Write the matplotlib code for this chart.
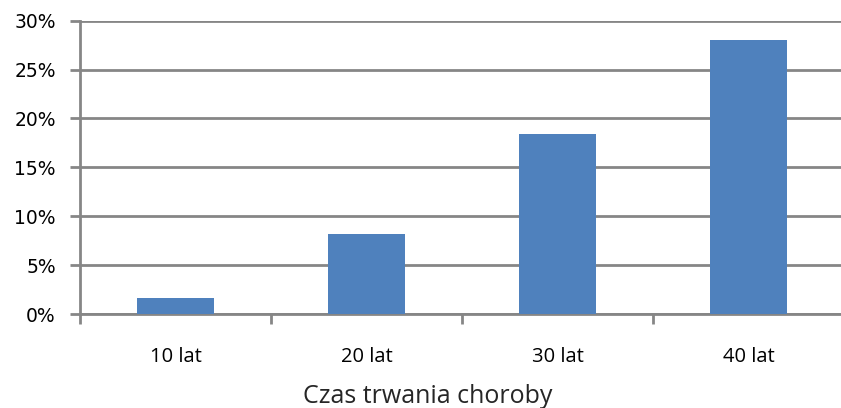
import matplotlib.pyplot as plt
from matplotlib.ticker import FixedLocator, PercentFormatter

# Data
categories = ["10 lat", "20 lat", "30 lat", "40 lat"]
values = [1.6, 8.2, 18.4, 28.0]
y_ticks = [0, 5, 10, 15, 20, 25, 30]

grey = "#868686"
blue = "#4F81BD"

fig = plt.figure(figsize=(8.41, 4.08), dpi=100)
ax = fig.add_axes([80 / 841, 1 - 314 / 408, 764 / 841, (314 - 20.7) / 408])

x = list(range(len(categories)))
ax.bar(x, values, width=0.4, color=blue, zorder=3)

ax.set_xlim(-0.5, len(categories) - 0.5)
ax.set_ylim(0, 30)

# y axis
ax.set_yticks(y_ticks)
ax.yaxis.set_major_formatter(PercentFormatter(decimals=0))
ax.yaxis.grid(True, color=grey, linewidth=2.0, zorder=0)
ax.tick_params(axis="y", direction="out", length=7, width=2.0, color=grey,
               labelsize=13.5, pad=10.5, labelcolor="black")

# x axis: ticks at category boundaries, labels in the middle
ax.set_xticks(x)
ax.set_xticklabels(categories, fontfamily="Open Sans", fontsize=14.5)
ax.xaxis.set_minor_locator(FixedLocator([i - 0.5 for i in range(len(categories) + 1)]))
ax.tick_params(axis="x", which="major", length=0, pad=23.5)
ax.tick_params(axis="x", which="minor", direction="out", length=7, width=2.0, color=grey)

for side in ["top", "right"]:
    ax.spines[side].set_visible(False)
for side in ["left", "bottom"]:
    ax.spines[side].set_color(grey)
    ax.spines[side].set_linewidth(2.0)
ax.set_axisbelow(True)

ax.set_xlabel("Czas trwania choroby", fontfamily="Open Sans", fontsize=18,
              color="#262626")
# the title sits a bit left of the plot centre in the original
ax.xaxis.set_label_coords(0.4555, -0.237)

fig.savefig("out.png", dpi=100)
